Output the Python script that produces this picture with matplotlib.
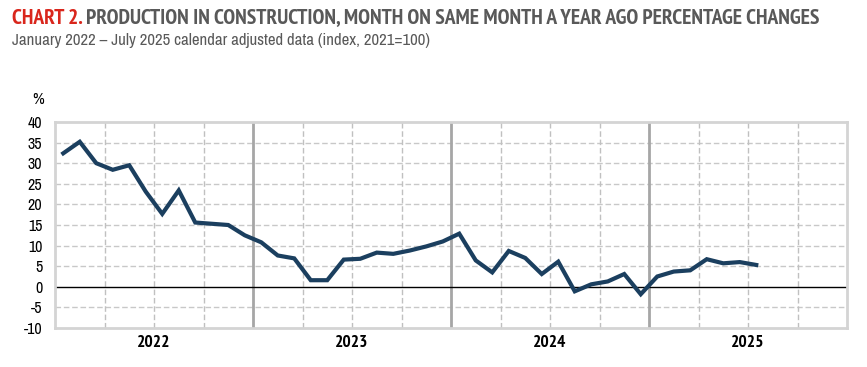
import matplotlib
matplotlib.use("Agg")
import matplotlib.pyplot as plt
import numpy as np

years = ["2022", "2023", "2024", "2025"]
values = [32.4, 35.2, 30.0, 28.4, 29.5, 23.1, 17.7, 23.4, 15.6, 15.3, 15.0, 12.5,
          10.8, 7.6, 6.9, 1.6, 1.6, 6.6, 6.8, 8.3, 8.0, 8.8, 9.8, 11.0,
          12.9, 6.4, 3.5, 8.7, 7.0, 3.1, 6.1, -1.1, 0.6, 1.3, 3.1, -1.8,
          2.5, 3.7, 4.0, 6.7, 5.7, 6.0, 5.3]
yticks = list(range(-10, 45, 5))

narrow = ["Archivo Narrow", "PT Sans Narrow", "Liberation Sans", "DejaVu Sans"]
narrow_b = ["PT Sans Narrow", "Archivo Narrow", "Liberation Sans", "DejaVu Sans"]
plt.rcParams["font.family"] = narrow

fig = plt.figure(figsize=(8.67, 3.67), dpi=100)
ax = fig.add_axes([55/867, 1-328/367, (847-55)/867, (328-122)/367])

x = np.arange(len(values)) + 0.5
n_months = 12 * len(years)
ax.set_xlim(0, n_months)
ax.set_ylim(-10, 40)

for yv in yticks:
    if yv in (-10, 40, 0):
        continue
    ax.axhline(yv, color="#c8c8c8", lw=1.0, ls=(0, (4, 2)), zorder=1)
for q in range(1, n_months // 3):
    m = q * 3
    if m % 12 == 0:
        ax.axvline(m, color="#a6a6a6", lw=2.0, zorder=1)
    else:
        ax.axvline(m, color="#c0c0c0", lw=1.0, ls=(0, (4, 2)), zorder=1)

ax.axhline(0, color="black", lw=1.0, zorder=2)
ax.plot(x, values, color="#1b3f5f", lw=3.0, zorder=3, solid_joinstyle="miter")

for s in ax.spines.values():
    s.set_color("#d4d4d4")
    s.set_linewidth(2.0)

ax.set_yticks(yticks)
ax.set_yticklabels([str(v) for v in yticks], fontsize=11.5, color="black")
ax.tick_params(axis="y", length=0, pad=9)
ax.set_xticks([12 * i + 6 for i in range(len(years))])
ax.set_xticklabels(years, fontsize=12.5, fontweight="bold", family=narrow_b)
ax.tick_params(axis="x", length=0, pad=5)

fig.text(38/867, 1-100/367, "%", fontsize=11.5, ha="center", va="center")

def fit(fs_list, texts_right):
    pass

fs = 13.5
t1 = fig.text(12/867, 1-18/367, "CHART 2.", fontsize=fs, fontweight="bold",
              color="#d9261c", ha="left", va="center", family=narrow_b)
t2 = fig.text(0, 1-18/367,
              "PRODUCTION IN CONSTRUCTION, MONTH ON SAME MONTH A YEAR AGO PERCENTAGE CHANGES",
              fontsize=fs, fontweight="bold", color="#595959", ha="left", va="center", family=narrow_b)
t3 = fig.text(12/867, 1-40/367, "January 2022 \u2013 July 2025 calendar adjusted data (index, 2021=100)",
              fontsize=12, color="#595959", ha="left", va="center")
r = fig.canvas.get_renderer()
for _ in range(3):
    bb1 = t1.get_window_extent(r)
    t2.set_x((bb1.x1 + 3) / 867)
    bb2 = t2.get_window_extent(r)
    scale = (815 - 12) / (bb2.x1 - 12)
    fs *= scale
    t1.set_fontsize(fs)
    t2.set_fontsize(fs)
bb1 = t1.get_window_extent(r)
t2.set_x((bb1.x1 + 3) / 867)
fs3 = 12
for _ in range(3):
    bb3 = t3.get_window_extent(r)
    fs3 *= (428 - 12) / (bb3.x1 - 12)
    t3.set_fontsize(fs3)

fig.savefig("out.png", dpi=100)
